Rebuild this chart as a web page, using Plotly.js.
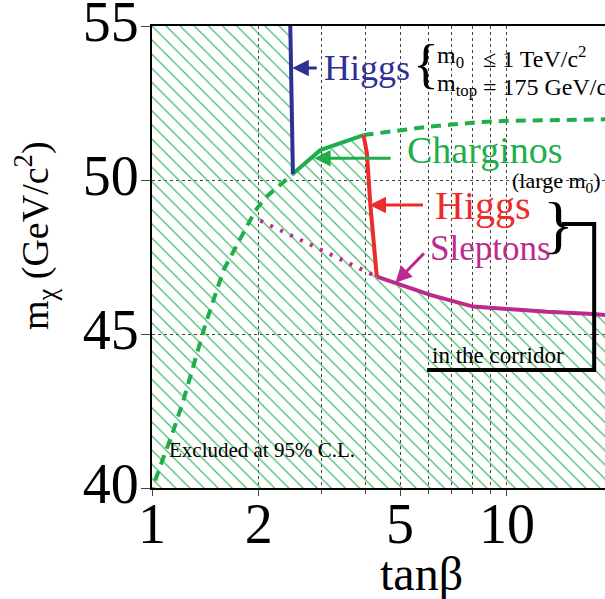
<!DOCTYPE html>
<html>
<head>
<meta charset="utf-8">
<script src="https://cdn.plot.ly/plotly-3.0.1.min.js"></script>
<style>
  html, body { margin: 0; padding: 0; background: #fff; }
  #chart { width: 605px; height: 599px; }
</style>
</head>
<body>
<div id="chart"></div>
<script>
// tan(beta) axis extent and mass axis extent
const tanbRange = [1, 18.9];
const massRange = [40, 55];

// axis ticks
const tanbTicks = [1, 2, 5, 10];
const tanbTickText = ['1', '2', '5', '10'];
const tanbMinor = [3, 4, 6, 7, 8, 9];
const massTicks = [40, 45, 50, 55];

// Higgs limit, small tan(beta) side (vertical wall)
const higgsLowX = [2.453, 2.495];
const higgsLowY = [55, 50.2];

// Chargino limit, solid part
const charginoX = [2.495, 2.98, 3.945];
const charginoY = [50.2, 50.97, 51.46];

// Chargino limit for large m0 (dashed), lower branch
const charginoLargeLowX = [1.0, 1.022, 1.067, 1.150, 1.227, 1.268, 1.413, 1.591, 1.698, 1.832, 1.954, 2.084, 2.275, 2.495];
const charginoLargeLowY = [39.7, 40.26, 40.86, 41.88, 42.86, 43.45, 45.3, 47.08, 47.7, 48.45, 49.0, 49.42, 49.8, 50.2];

// Chargino limit for large m0 (dashed), upper branch
const charginoLargeHighX = [3.945, 4.5, 5.0, 6.0, 7.0, 8.4, 10.0, 14.0, 18.9];
const charginoLargeHighY = [51.46, 51.55, 51.62, 51.73, 51.80, 51.88, 51.92, 51.95, 51.97];

// Higgs limit inside the corridor
const higgsCorrX = [3.945, 4.033, 4.12, 4.21, 4.30];
const higgsCorrY = [51.46, 50.87, 49.24, 48.05, 46.86];

// Slepton limit (solid) and its continuation (dotted)
const sleptonX = [4.30, 4.9, 6.08, 8.03, 10.0, 13.0, 17.5, 18.9];
const sleptonY = [46.86, 46.65, 46.27, 45.89, 45.80, 45.72, 45.65, 45.62];
const sleptonDotX = [2.02, 4.30];
const sleptonDotY = [48.68, 46.86];

// bracket tying the corridor limits to their label
const bracketX = [14.3, 17.62, 17.62, 5.96];
const bracketY = [48.57, 48.57, 43.83, 43.83];

const BLUE = '#2e3192';
const GREEN = '#1fae4b';
const HATCH = '#3dbb63';
const RED = '#ee2a2a';
const MAGENTA = '#bd2a8e';
const FONT = 'Liberation Serif, Times New Roman, serif';

// excluded region: everything below the combined limit
const exclX = [tanbRange[0], tanbRange[0]]
  .concat(higgsLowX, charginoX.slice(1), higgsCorrX.slice(1), sleptonX.slice(1), [tanbRange[1]]);
const exclY = [massRange[0], massRange[1]]
  .concat(higgsLowY, charginoY.slice(1), higgsCorrY.slice(1), sleptonY.slice(1), [massRange[0]]);

const traces = [
  {
    x: exclX, y: exclY, mode: 'lines', fill: 'toself',
    line: { width: 0, color: 'rgba(0,0,0,0)' },
    fillcolor: 'rgba(0,0,0,0)',
    fillpattern: { shape: '\\', size: 10, solidity: 0.12, fgcolor: HATCH, bgcolor: 'rgba(0,0,0,0)' }
  },
  { x: charginoLargeLowX, y: charginoLargeLowY, mode: 'lines', line: { color: GREEN, width: 4, dash: '10px,7px' } },
  { x: charginoLargeHighX, y: charginoLargeHighY, mode: 'lines', line: { color: GREEN, width: 4, dash: '10px,7px' } },
  { x: charginoX, y: charginoY, mode: 'lines', line: { color: GREEN, width: 4 } },
  { x: higgsLowX, y: higgsLowY, mode: 'lines', line: { color: BLUE, width: 4 } },
  { x: sleptonDotX, y: sleptonDotY, mode: 'lines', line: { color: MAGENTA, width: 4, dash: '3px,8px' } },
  { x: higgsCorrX, y: higgsCorrY, mode: 'lines', line: { color: RED, width: 4 } },
  { x: sleptonX, y: sleptonY, mode: 'lines', line: { color: MAGENTA, width: 4 } },
  { x: bracketX, y: bracketY, mode: 'lines', line: { color: '#000', width: 4 } }
];

const L = v => Math.log10(v);

function label(text, x, y, size, color, extra) {
  return Object.assign({
    text: text, x: L(x), y: y, xref: 'x', yref: 'y',
    xanchor: 'left', yanchor: 'middle', showarrow: false,
    font: { family: FONT, size: size, color: color }
  }, extra || {});
}

function arrow(x, y, ax, ay, color) {
  return {
    text: '', x: L(x), y: y, xref: 'x', yref: 'y', ax: ax, ay: ay,
    showarrow: true, arrowhead: 2, arrowsize: 1.1, arrowwidth: 3,
    arrowcolor: color, standoff: 0, startstandoff: 0
  };
}

const annotations = [
  label('Higgs', 3.016, 53.64, 36, BLUE),
  label('Charginos', 5.17, 50.97, 38, GREEN),
  label('(large m<sub>0</sub>)', 10.2, 49.95, 22, '#000'),
  label('Higgs', 6.20, 49.18, 40, RED),
  label('Sleptons', 6.00, 47.79, 35, MAGENTA),
  label('in the corridor', 6.08, 44.30, 23, '#000'),
  label('Excluded at 95% C.L.', 1.104, 41.24, 21, '#000'),
  label('}', 14.0, 48.55, 64, '#000', { xanchor: 'center' }),
  label('{', 5.9, 53.78, 54, '#000', { xanchor: 'center' }),
  label('m<sub>0</sub>', 6.28, 53.98, 24, '#000'),
  label('≤ 1 TeV/c<sup>2</sup>', 8.45, 53.98, 24, '#000'),
  label('m<sub>top</sub>', 6.28, 53.10, 24, '#000'),
  label('= 175 GeV/c<sup>2</sup>', 8.45, 53.10, 24, '#000'),
  arrow(2.485, 53.64, 26, 0, BLUE),
  arrow(2.864, 50.71, 78, 0, GREEN),
  arrow(4.10, 49.19, 55, 0, RED),
  arrow(4.85, 46.66, 30, -31, MAGENTA),
  {
    text: 'tanβ', xref: 'paper', yref: 'paper', x: 0.594, y: -0.184,
    xanchor: 'center', yanchor: 'middle', showarrow: false,
    font: { family: FONT, size: 48, color: '#000' }
  },
  {
    text: 'm<sub>χ</sub> (GeV/c<sup>2</sup>)', xref: 'paper', yref: 'paper', x: -0.258, y: 0.5455,
    xanchor: 'center', yanchor: 'middle', showarrow: false, textangle: -90,
    font: { family: FONT, size: 38, color: '#000' }
  }
];

const layout = {
  width: 605, height: 599,
  margin: { l: 152, r: 0, t: 26, b: 111, pad: 0 },
  paper_bgcolor: '#fff', plot_bgcolor: '#fff',
  showlegend: false, hovermode: false,
  font: { family: FONT, color: '#000' },
  xaxis: {
    type: 'log', range: [L(tanbRange[0]), L(tanbRange[1])],
    tickmode: 'array', tickvals: tanbTicks, ticktext: tanbTickText,
    tickfont: { family: FONT, size: 56, color: '#000' },
    ticklabeloverflow: 'allow', ticklabelstandoff: -20,
    ticks: 'outside', ticklen: 6, tickcolor: '#444', tickwidth: 1,
    showgrid: true, gridcolor: '#444', griddash: 'dot', gridwidth: 1,
    minor: { tickmode: 'array', tickvals: tanbMinor, showgrid: true, gridcolor: '#444', griddash: 'dot', gridwidth: 1, ticks: 'outside', ticklen: 4, tickcolor: '#444' },
    showline: true, linecolor: '#000', linewidth: 2, mirror: true,
    zeroline: false, fixedrange: true
  },
  yaxis: {
    range: massRange,
    tickmode: 'array', tickvals: massTicks,
    tickfont: { family: FONT, size: 56, color: '#000' },
    ticklabeloverflow: 'allow', ticklabelstandoff: -9, ticklabelshift: -5,
    ticks: 'outside', ticklen: 9, tickcolor: '#444', tickwidth: 1,
    showgrid: true, gridcolor: '#444', griddash: 'dot', gridwidth: 1,
    showline: true, linecolor: '#000', linewidth: 2,
    zeroline: false, fixedrange: true
  },
  annotations: annotations
};

Plotly.newPlot('chart', traces, layout, { displayModeBar: false, staticPlot: true });
</script>
</body>
</html>
